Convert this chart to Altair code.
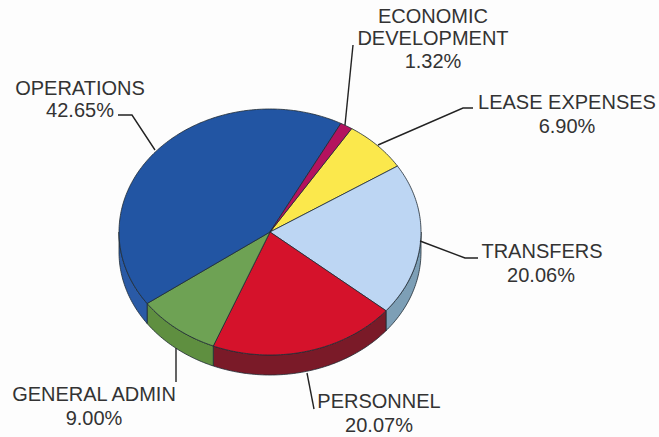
import math
import altair as alt
import pandas as pd

# Budget shares in drawing order, clockwise from the top of the pie
categories = ["LEASE EXPENSES", "TRANSFERS", "PERSONNEL", "GENERAL ADMIN", "OPERATIONS", "ECONOMIC DEVELOPMENT"]
shares = [6.90, 20.06, 20.07, 9.00, 42.65, 1.32]
top_colors = ["#fbe84c", "#bdd6f3", "#d5122b", "#6ea254", "#2255a3", "#b4125e"]
side_colors = ["#c9b93a", "#7d9fb6", "#7a1a28", "#5f8f40", "#2a5aa6", "#8c0f4a"]

# Text blocks: line, centre x, baseline y
label_lines = ["OPERATIONS", "42.65%", "ECONOMIC", "DEVELOPMENT", "1.32%", "LEASE EXPENSES", "6.90%",
               "TRANSFERS", "20.06%", "PERSONNEL", "20.07%", "GENERAL ADMIN", "9.00%"]
label_x = [80, 80, 433, 433, 433, 567, 567, 542, 541, 379, 379, 94, 94]
label_y = [95, 117, 23, 45, 68, 109, 133, 258, 282, 408, 432, 401, 425]

# Leader lines from each label to its slice
leaders = {
    "OPERATIONS": [(118, 115), (132, 115), (155, 150)],
    "ECONOMIC DEVELOPMENT": [(353, 45), (345, 125)],
    "LEASE EXPENSES": [(473, 108), (463, 108), (378, 145)],
    "TRANSFERS": [(420, 241), (465, 258), (478, 258)],
    "PERSONNEL": [(307, 373), (314, 409)],
    "GENERAL ADMIN": [(176, 348), (176, 382)],
}

# Tilted-pie geometry
CX, CY, RX, RY, DEPTH = 270, 232, 151, 123, 20
START_DEG = 32.75
W, H = 659, 437


def rim(t_deg, drop=0):
    t = math.radians(t_deg)
    return CX + RX * math.sin(t), CY - RY * math.cos(t) + drop


def sweep(a, b, step=1.0):
    n = max(2, int(abs(b - a) / step) + 1)
    return [a + (b - a) * k / (n - 1) for k in range(n)]


rows = []


def add_piece(piece, color, pts):
    closed = pts + [pts[0]]
    for i, (x, y) in enumerate(closed):
        rows.append({"piece": piece, "color": color, "i": i, "x": x, "y": y})


# Side wall and top face of every slice
angle = START_DEG
tops = []
for name, share, top, side in zip(categories, shares, top_colors, side_colors):
    end = angle + share * 3.6
    tops.append((name, top, angle, end))
    for shift in (0, 360):
        lo, hi = max(angle, 90 + shift), min(end, 270 + shift)
        if lo < hi:
            ts = sweep(lo, hi)
            wall = [rim(t) for t in ts] + [rim(t, DEPTH) for t in reversed(ts)]
            add_piece(f"0 wall {name} {shift}", side, wall)
    angle = end
for name, top, a, b in tops:
    add_piece(f"1 top {name}", top, [(CX, CY)] + [rim(t) for t in sweep(a, b)])

pieces = pd.DataFrame(rows)
x_scale = alt.Scale(domain=[0, W], range=[0, W])
y_scale = alt.Scale(domain=[0, H], range=[0, H])

colors = pieces.drop_duplicates("piece")
slices = alt.Chart(pieces).mark_line(stroke="#1f2b33", strokeWidth=0.8, strokeJoin="round").encode(
    x=alt.X("x:Q", scale=x_scale, axis=None),
    y=alt.Y("y:Q", scale=y_scale, axis=None),
    order="i:Q",
    detail="piece:N",
    fill=alt.Fill("piece:N", legend=None, sort=None,
                  scale=alt.Scale(domain=list(colors["piece"]), range=list(colors["color"]))),
)

leader_rows = [{"name": n, "i": i, "x": p[0], "y": p[1]} for n, pts in leaders.items() for i, p in enumerate(pts)]
leader_lines = alt.Chart(pd.DataFrame(leader_rows)).mark_line(color="#222222", strokeWidth=1.4).encode(
    x=alt.X("x:Q", scale=x_scale, axis=None),
    y=alt.Y("y:Q", scale=y_scale, axis=None),
    order="i:Q",
    detail="name:N",
)

labels = alt.Chart(pd.DataFrame({"t": label_lines, "x": label_x, "y": label_y})).mark_text(
    font="Liberation Sans", fontSize=20, color="#333333", align="center", baseline="alphabetic"
).encode(
    x=alt.X("x:Q", scale=x_scale, axis=None),
    y=alt.Y("y:Q", scale=y_scale, axis=None),
    text="t:N",
)

chart = (slices + leader_lines + labels).properties(
    width=W, height=H, padding=0, background="#fdfdfd", autosize=alt.AutoSizeParams(type="none")
).configure_view(stroke=None)

chart.save("out.html", embed_options={"renderer": "svg", "actions": False})
